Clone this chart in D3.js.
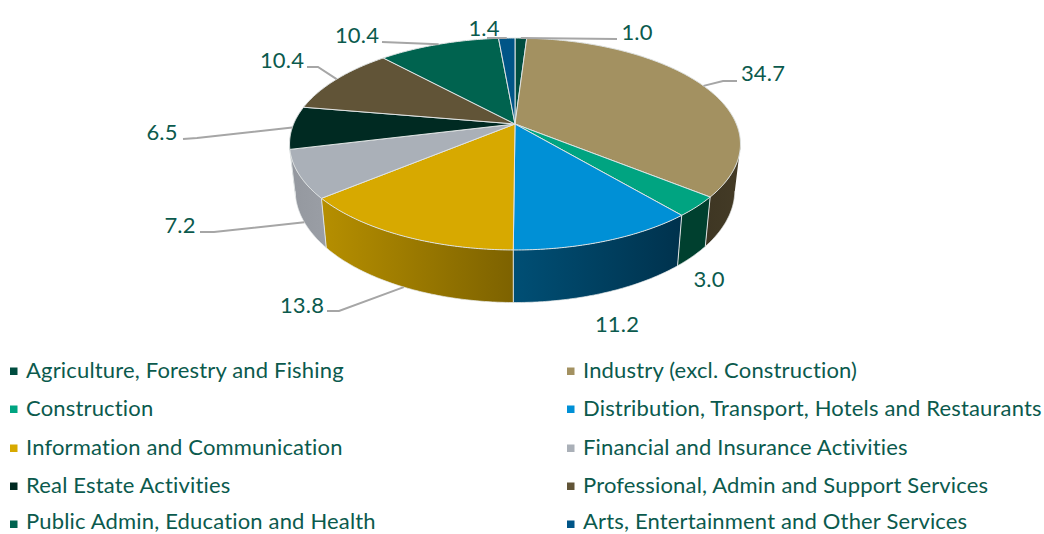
<!DOCTYPE html>
<html><head><meta charset="utf-8">
<script src="https://cdn.jsdelivr.net/npm/d3@7"></script>
<style>html,body{margin:0;padding:0;background:#fff}svg{display:block}text{font-family:Lato,"Open Sans",sans-serif}</style>
</head><body><svg id="c" width="1044" height="534"></svg>
<script>
const categories = ["Agriculture, Forestry and Fishing","Industry (excl. Construction)","Construction","Distribution, Transport, Hotels and Restaurants","Information and Communication","Financial and Insurance Activities","Real Estate Activities","Professional, Admin and Support Services","Public Admin, Education and Health","Arts, Entertainment and Other Services"];
const values = [1.0,34.7,3.0,11.2,13.8,7.2,6.5,10.4,10.4,1.4];
const valueLabels = ["1.0","34.7","3.0","11.2","13.8","7.2","6.5","10.4","10.4","1.4"];
const colors = ["#004d40","#a39161","#00a481","#0090d6","#d7a900","#aab0b8","#002a22","#615437","#00634f","#005587"];
const wallLeft = ["#004d40","#3e3623","#00402f","#004f75","#b68f00","#94989f","#94989f","#615437","#00634f","#005587"];
const wallRight = ["#004d40","#443b26","#00402f","#00324d","#7d6200","#9a9ea5","#94989f","#615437","#00634f","#005587"];
// label layout: text centre, and elbow point of leader (null = no leader)
const labelPos = [[637,32],[763,73],[709,279],[617,324],[302,305],[180,225],[162,132],[282,60],[357,35],[484,28]];
const leaderEnd = [[617,39],[737,81],null,null,[327,311],[200,232],[183,139],[307,67],[382,42],[487,38]];
const leaderElbow = [null,[723,81],null,null,[339,311],[214,232],[197,138],[318,67],null,null];
const leaderOnWall = [false,false,false,false,true,true,false,false,false,false];

const textColor = "#0b5a4d", leaderColor = "#a6a6a6", edge = "#dfe3e3";
const svg = d3.select("#c");
const cx = 515, cy = 124;
const a = 221.4, b = 102.2, p = -0.1887;
const top3d = t => { const u = Math.sin(t), v = -Math.cos(t), d = 1 + p*v; return [cx + a*u/d, cy + b*v/d]; };
const bot3d = t => { const q = top3d(t); return [cx + (q[0]-cx)*0.975, cy + (q[1]-cy)*1.06 + 45]; };

const arcs = d3.pie().sort(null).value(d => d)(values);
const color = d3.scaleOrdinal(categories, colors);
const line = d3.line();
const samples = (s,e) => { const n = Math.max(2, Math.ceil((e-s)/0.01)); return d3.range(n+1).map(i => s + (e-s)*i/n); };

const wallMin = 101.4*Math.PI/180, wallMax = 258.6*Math.PI/180;
const defs = svg.append("defs");
arcs.forEach((d,i) => {
  const s = Math.max(d.startAngle, wallMin), e = Math.min(d.endAngle, wallMax);
  if (e <= s) return;
  const ps = samples(s,e), tp = ps.map(top3d), bp = ps.map(bot3d);
  const xs = tp.concat(bp).map(q => q[0]);
  const id = "w"+i;
  const g = defs.append("linearGradient").attr("id",id).attr("gradientUnits","userSpaceOnUse")
    .attr("x1",d3.min(xs)).attr("x2",d3.max(xs)).attr("y1",0).attr("y2",0);
  g.append("stop").attr("offset",0).attr("stop-color",wallLeft[i]);
  g.append("stop").attr("offset",1).attr("stop-color",wallRight[i]);
  svg.append("path").attr("d", line(tp.concat(bp.reverse()))+"Z").attr("fill",`url(#${id})`);
  if (d.startAngle >= wallMin) svg.append("path").attr("d",line([top3d(d.startAngle),bot3d(d.startAngle)])).attr("stroke",edge).attr("stroke-width",1).attr("fill","none");
});
svg.append("path").attr("d",line(samples(wallMin,wallMax).map(bot3d))).attr("fill","none").attr("stroke","#e8ebeb").attr("stroke-width",0.7);

// top face
arcs.forEach((d,i) => {
  const pts = [[cx,cy]].concat(samples(d.startAngle,d.endAngle).map(top3d));
  svg.append("path").attr("d",line(pts)+"Z").attr("fill",color(categories[i])).attr("stroke",edge).attr("stroke-width",1).attr("stroke-linejoin","round");
});

// leaders & labels
arcs.forEach((d,i) => {
  if (leaderEnd[i]) {
    const mid = (d.startAngle+d.endAngle)/2;
    const anchor = leaderOnWall[i] ? bot3d(mid) : top3d(mid);
    const pts = [leaderEnd[i]]; if (leaderElbow[i]) pts.push(leaderElbow[i]); pts.push(anchor);
    svg.append("path").attr("d",line(pts)).attr("fill","none").attr("stroke",leaderColor).attr("stroke-width",2);
  }
  svg.append("text").attr("x",labelPos[i][0]).attr("y",labelPos[i][1]).attr("dy","0.36em")
    .attr("text-anchor","middle").attr("font-size",22).attr("letter-spacing",0.17).attr("fill",textColor).text(valueLabels[i]);
});

// legend
const legendX = [10,567], legendY = [370,408,447,485,521], markerY = [371,409,448,486,524], textDx = 16;
categories.forEach((c,i) => {
  const row = Math.floor(i/2), x = legendX[i%2], y = legendY[row];
  svg.append("rect").attr("x",x).attr("y",markerY[row]-3.5).attr("width",7.5).attr("height",7.5).attr("fill",color(c));
  svg.append("text").attr("x",x+textDx).attr("y",y).attr("dy","0.36em").attr("font-size",22).attr("letter-spacing",0.17).attr("fill",textColor).text(c);
});
</script></body></html>
